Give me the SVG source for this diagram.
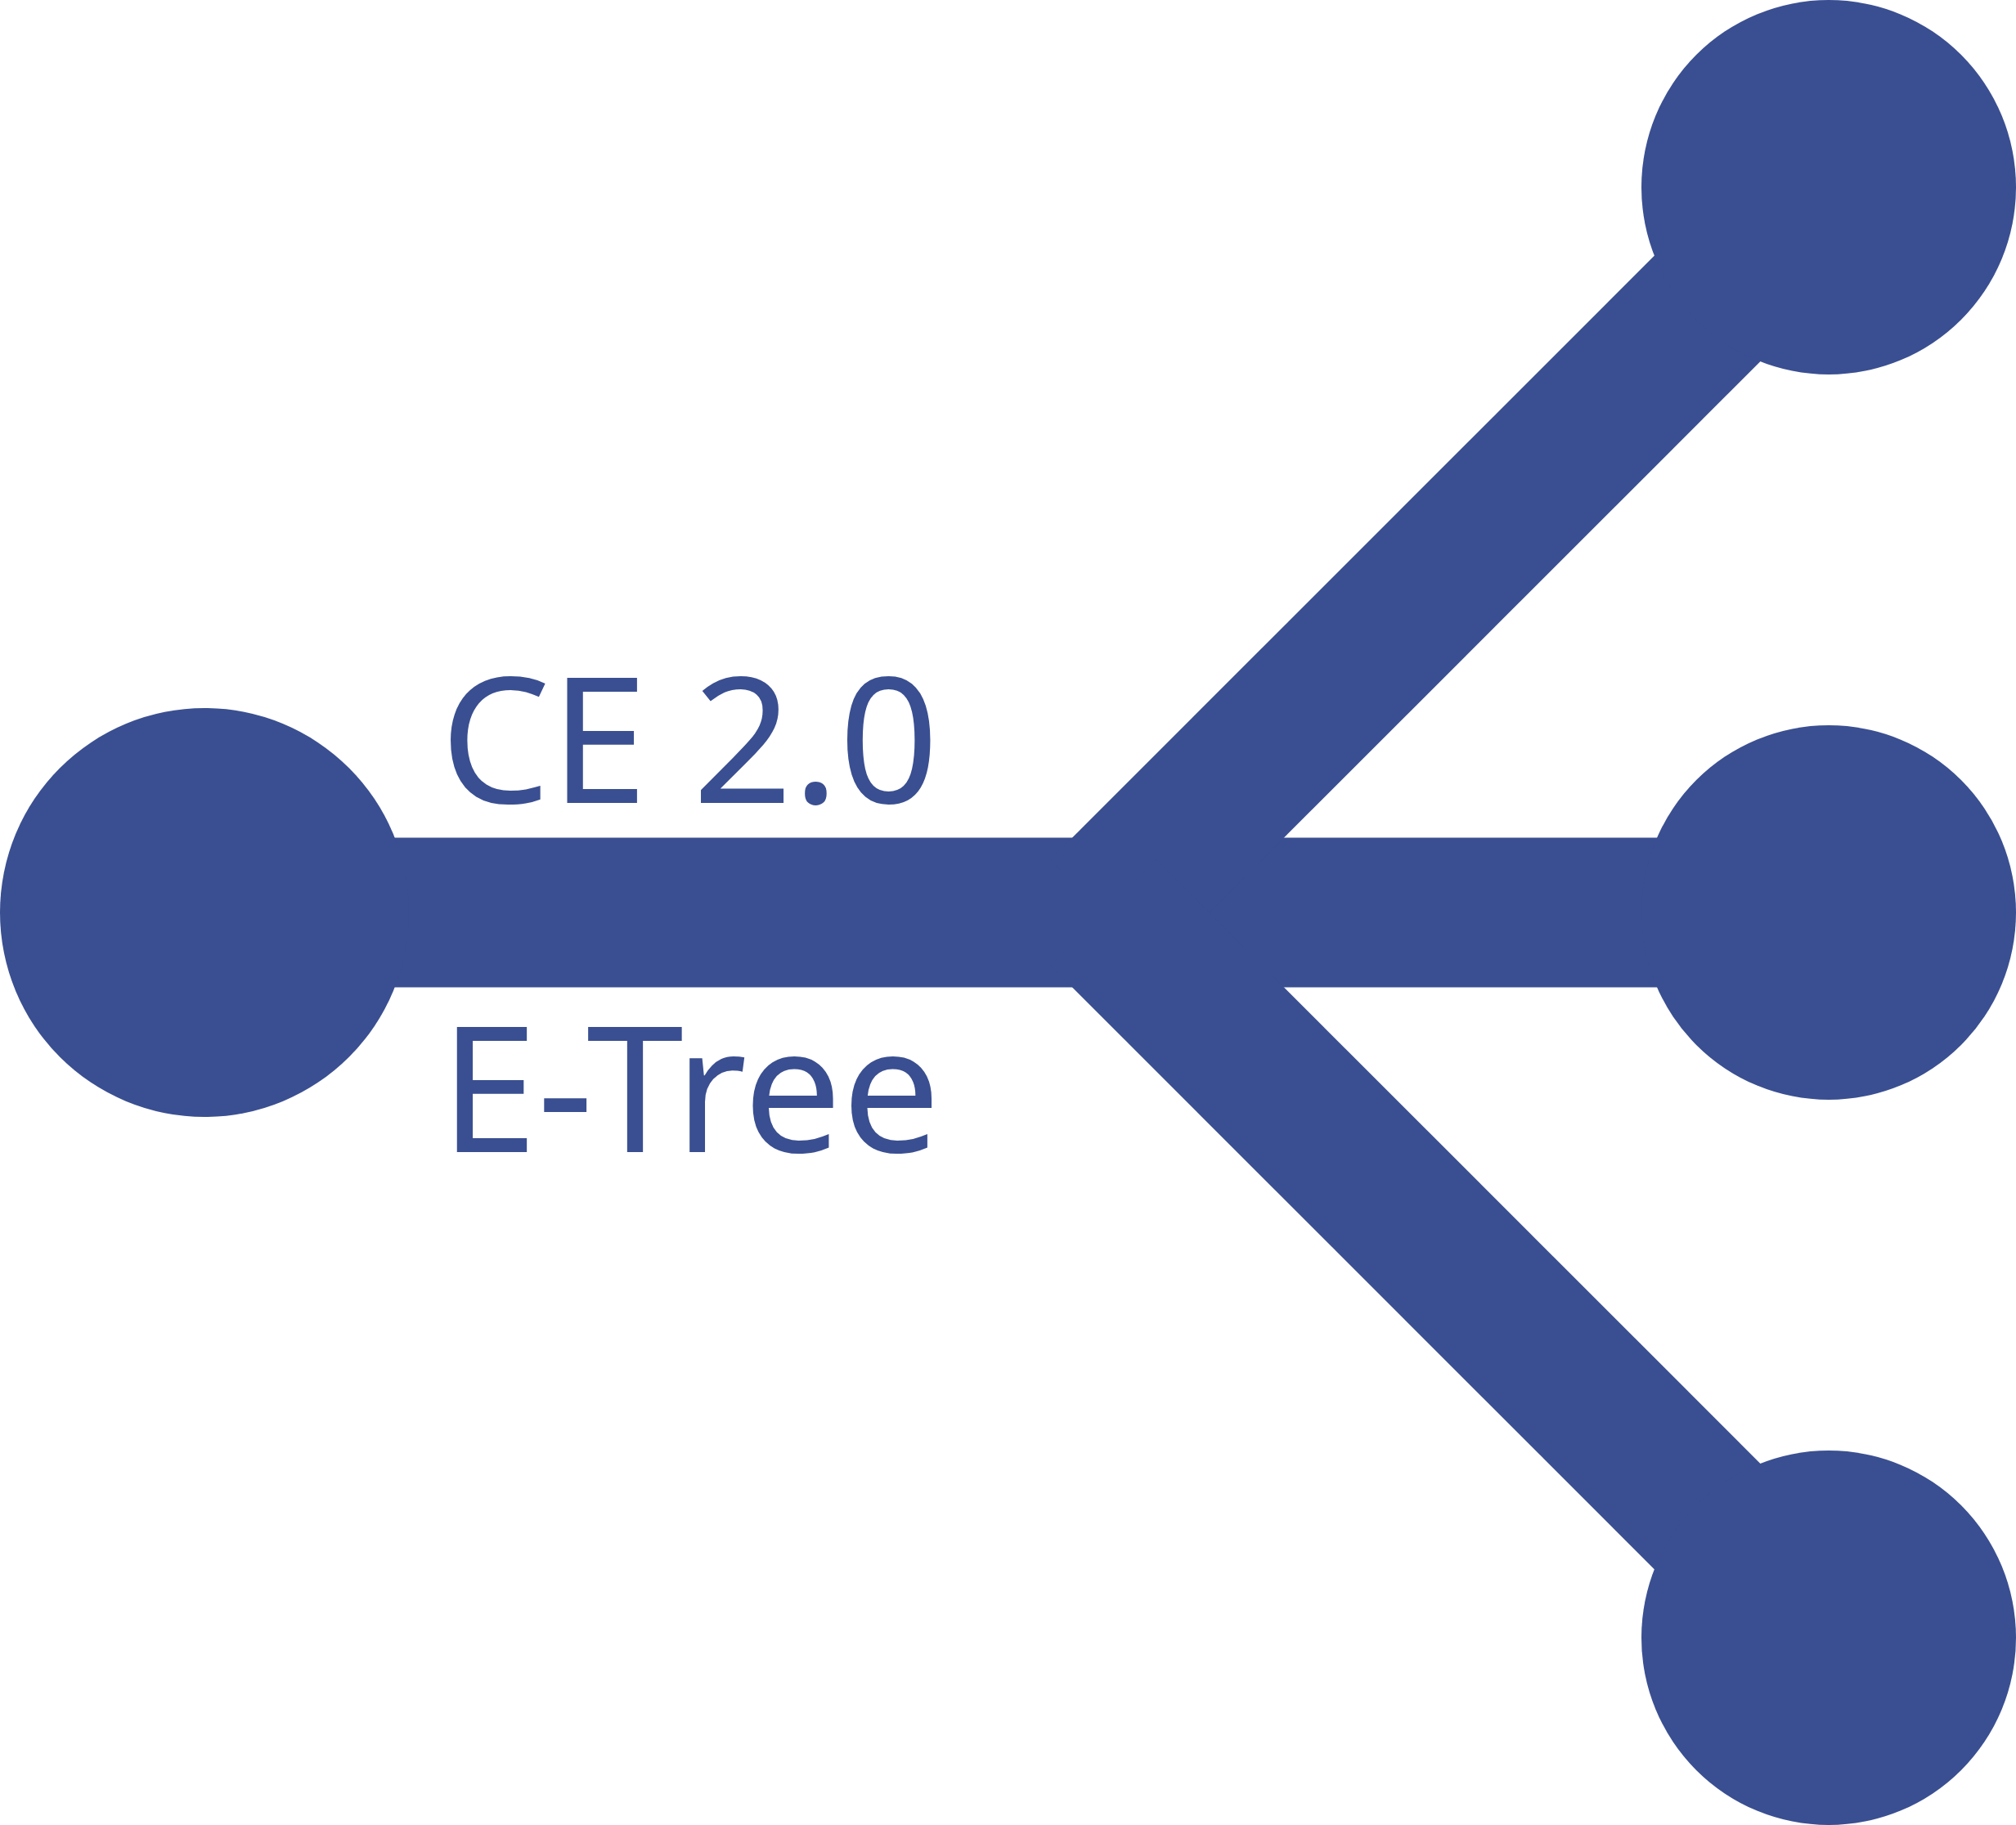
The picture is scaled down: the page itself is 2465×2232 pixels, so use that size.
<svg xmlns="http://www.w3.org/2000/svg" width="2465" height="2232" viewBox="0 0 2465 2232">
<style>
.n{fill:#3A4F91}
.c{stroke:#3A4F91;stroke-width:183;fill:none}
.t{fill:#3A4F91;font-family:"Noto Sans","Open Sans",sans-serif;font-size:214px}
</style>
<rect width="2465" height="2232" fill="#fff"/>
<g id="connectors">
<line class="c" x1="250" y1="1116" x2="2236" y2="1116"/>
<line class="c" x1="1349" y1="1116" x2="2236" y2="229"/>
<line class="c" x1="1349" y1="1116" x2="2236" y2="2003"/>
</g>
<g id="root"><circle class="n" cx="250" cy="1116" r="250"/></g>
<g id="leaf-top"><circle class="n" cx="2236" cy="229" r="229"/></g>
<g id="leaf-mid"><circle class="n" cx="2236" cy="1116" r="229"/></g>
<g id="leaf-bottom"><circle class="n" cx="2236" cy="2003" r="229"/></g>
<g id="labels">
<text class="t" x="538" y="982" textLength="610" lengthAdjust="spacing">CE 2.0</text>
<text class="t" x="538" y="1409" textLength="612" lengthAdjust="spacing">E-Tree</text>
</g>
</svg>
